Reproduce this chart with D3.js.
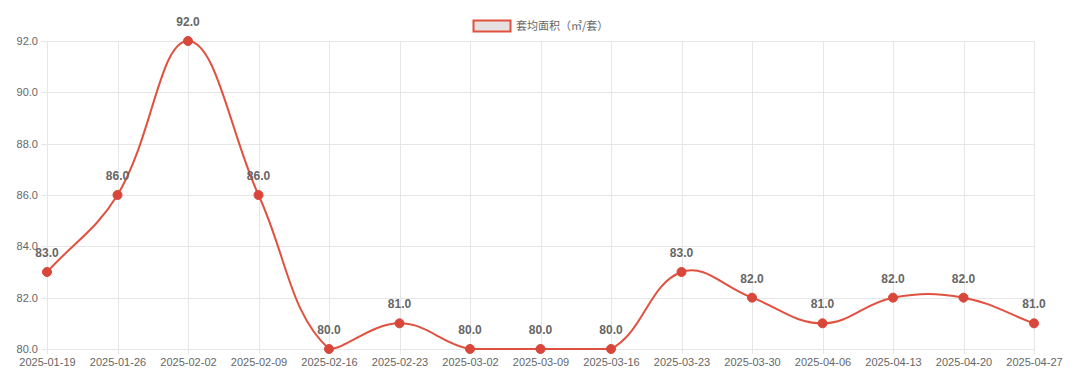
<!DOCTYPE html>
<html><head><meta charset="utf-8">
<script src="https://cdn.jsdelivr.net/npm/d3@7"></script>
<style>body{margin:0;background:#fff;}svg{display:block;font-family:"Noto Sans CJK SC","Liberation Sans",Arial,sans-serif;}</style>
</head><body>
<script>
const categories = ["2025-01-19","2025-01-26","2025-02-02","2025-02-09","2025-02-16","2025-02-23","2025-03-02","2025-03-09","2025-03-16","2025-03-23","2025-03-30","2025-04-06","2025-04-13","2025-04-20","2025-04-27"];
const values = [83,86,92,86,80,81,80,80,80,83,82,81,82,82,81];
const yTicks = [80,82,84,86,88,90,92];
const seriesName = "套均面积（㎡/套）";

(function(){
const W = 1080, H = 391;
const pl = 47, pr = 1034, pt = 41, pb = 349;
const svg = d3.select("body").append("svg").attr("width", W).attr("height", H);

const x = d3.scalePoint().domain(categories).range([pl, pr]);
const y = d3.scaleLinear().domain([80, 92]).range([pb, pt]);

const grid = svg.append("g");
grid.selectAll(".hg").data(yTicks).enter().append("line")
  .attr("x1", pl - 6).attr("x2", pr).attr("y1", d => Math.round(y(d))+0.5).attr("y2", d => Math.round(y(d))+0.5)
  .attr("stroke", "#e6e6e6").attr("stroke-width", 1);
grid.selectAll(".vg").data(categories).enter().append("line")
  .attr("x1", d => Math.round(x(d))+0.5).attr("x2", d => Math.round(x(d))+0.5).attr("y1", pt).attr("y2", pb + 5)
  .attr("stroke", "#e6e6e6").attr("stroke-width", 1);

const yAxis = d3.axisLeft(y).tickValues(yTicks).tickFormat(d3.format(".1f")).tickSize(0).tickPadding(9);
const ya = svg.append("g").attr("transform", `translate(${pl},0)`).call(yAxis);
ya.select(".domain").remove();
ya.selectAll("text").attr("fill", "#666").style("font-size", "11px").style("font-family", "Liberation Sans, Arial, sans-serif");

const xAxis = d3.axisBottom(x).tickSize(0).tickPadding(9);
const xa = svg.append("g").attr("transform", `translate(0,${pb})`).call(xAxis);
xa.select(".domain").remove();
xa.selectAll("text").attr("fill", "#666").style("font-size", "11px").style("font-family", "Liberation Sans, Arial, sans-serif");

const pts = values.map((v,i) => ({x: x(categories[i]), y: y(v)}));
const t = 0.4;
const cl = (v,a,b)=>Math.max(a,Math.min(b,v));
const cps = pts.map((p,i) => {
  const prev = pts[i-1] || p, next = pts[i+1] || p;
  const d01 = Math.hypot(p.x-prev.x, p.y-prev.y), d12 = Math.hypot(next.x-p.x, next.y-p.y);
  let s01 = d01/(d01+d12), s12 = d12/(d01+d12);
  if (isNaN(s01)) s01 = 0; if (isNaN(s12)) s12 = 0;
  const fa = t*s01, fb = t*s12;
  return {
    px: cl(p.x - fa*(next.x-prev.x), pl, pr), py: cl(p.y - fa*(next.y-prev.y), pt, pb),
    nx: cl(p.x + fb*(next.x-prev.x), pl, pr), ny: cl(p.y + fb*(next.y-prev.y), pt, pb)
  };
});
const path = d3.path();
path.moveTo(pts[0].x, pts[0].y);
for (let i = 1; i < pts.length; i++) {
  path.bezierCurveTo(cps[i-1].nx, cps[i-1].ny, cps[i].px, cps[i].py, pts[i].x, pts[i].y);
}
svg.append("path").attr("d", path.toString()).attr("fill", "none").attr("stroke", "#e0523f").attr("stroke-width", 2);

svg.selectAll(".pt").data(values).enter().append("circle")
  .attr("cx", (d,i) => x(categories[i])).attr("cy", d => y(d)).attr("r", 4.5)
  .attr("fill", "#d9463a").attr("stroke", "#d9463a").attr("stroke-width", 1);

svg.selectAll(".lbl").data(values).enter().append("text")
  .attr("x", (d,i) => x(categories[i])).attr("y", d => y(d) - 15)
  .attr("text-anchor", "middle").attr("fill", "#666").style("font-weight", "bold")
  .style("font-size", "12px").style("font-family", "Liberation Sans, Arial, sans-serif")
  .text(d => d3.format(".1f")(d));

const lg = svg.append("g");
lg.append("rect").attr("x", 473.5).attr("y", 20.5).attr("width", 37).attr("height", 11)
  .attr("fill", "#e6e0e0").attr("stroke", "#e0523f").attr("stroke-width", 2);
lg.append("text").attr("x", 516).attr("y", 30).attr("fill", "#666").style("font-size", "11px").text(seriesName);
})();
</script>
</body></html>
